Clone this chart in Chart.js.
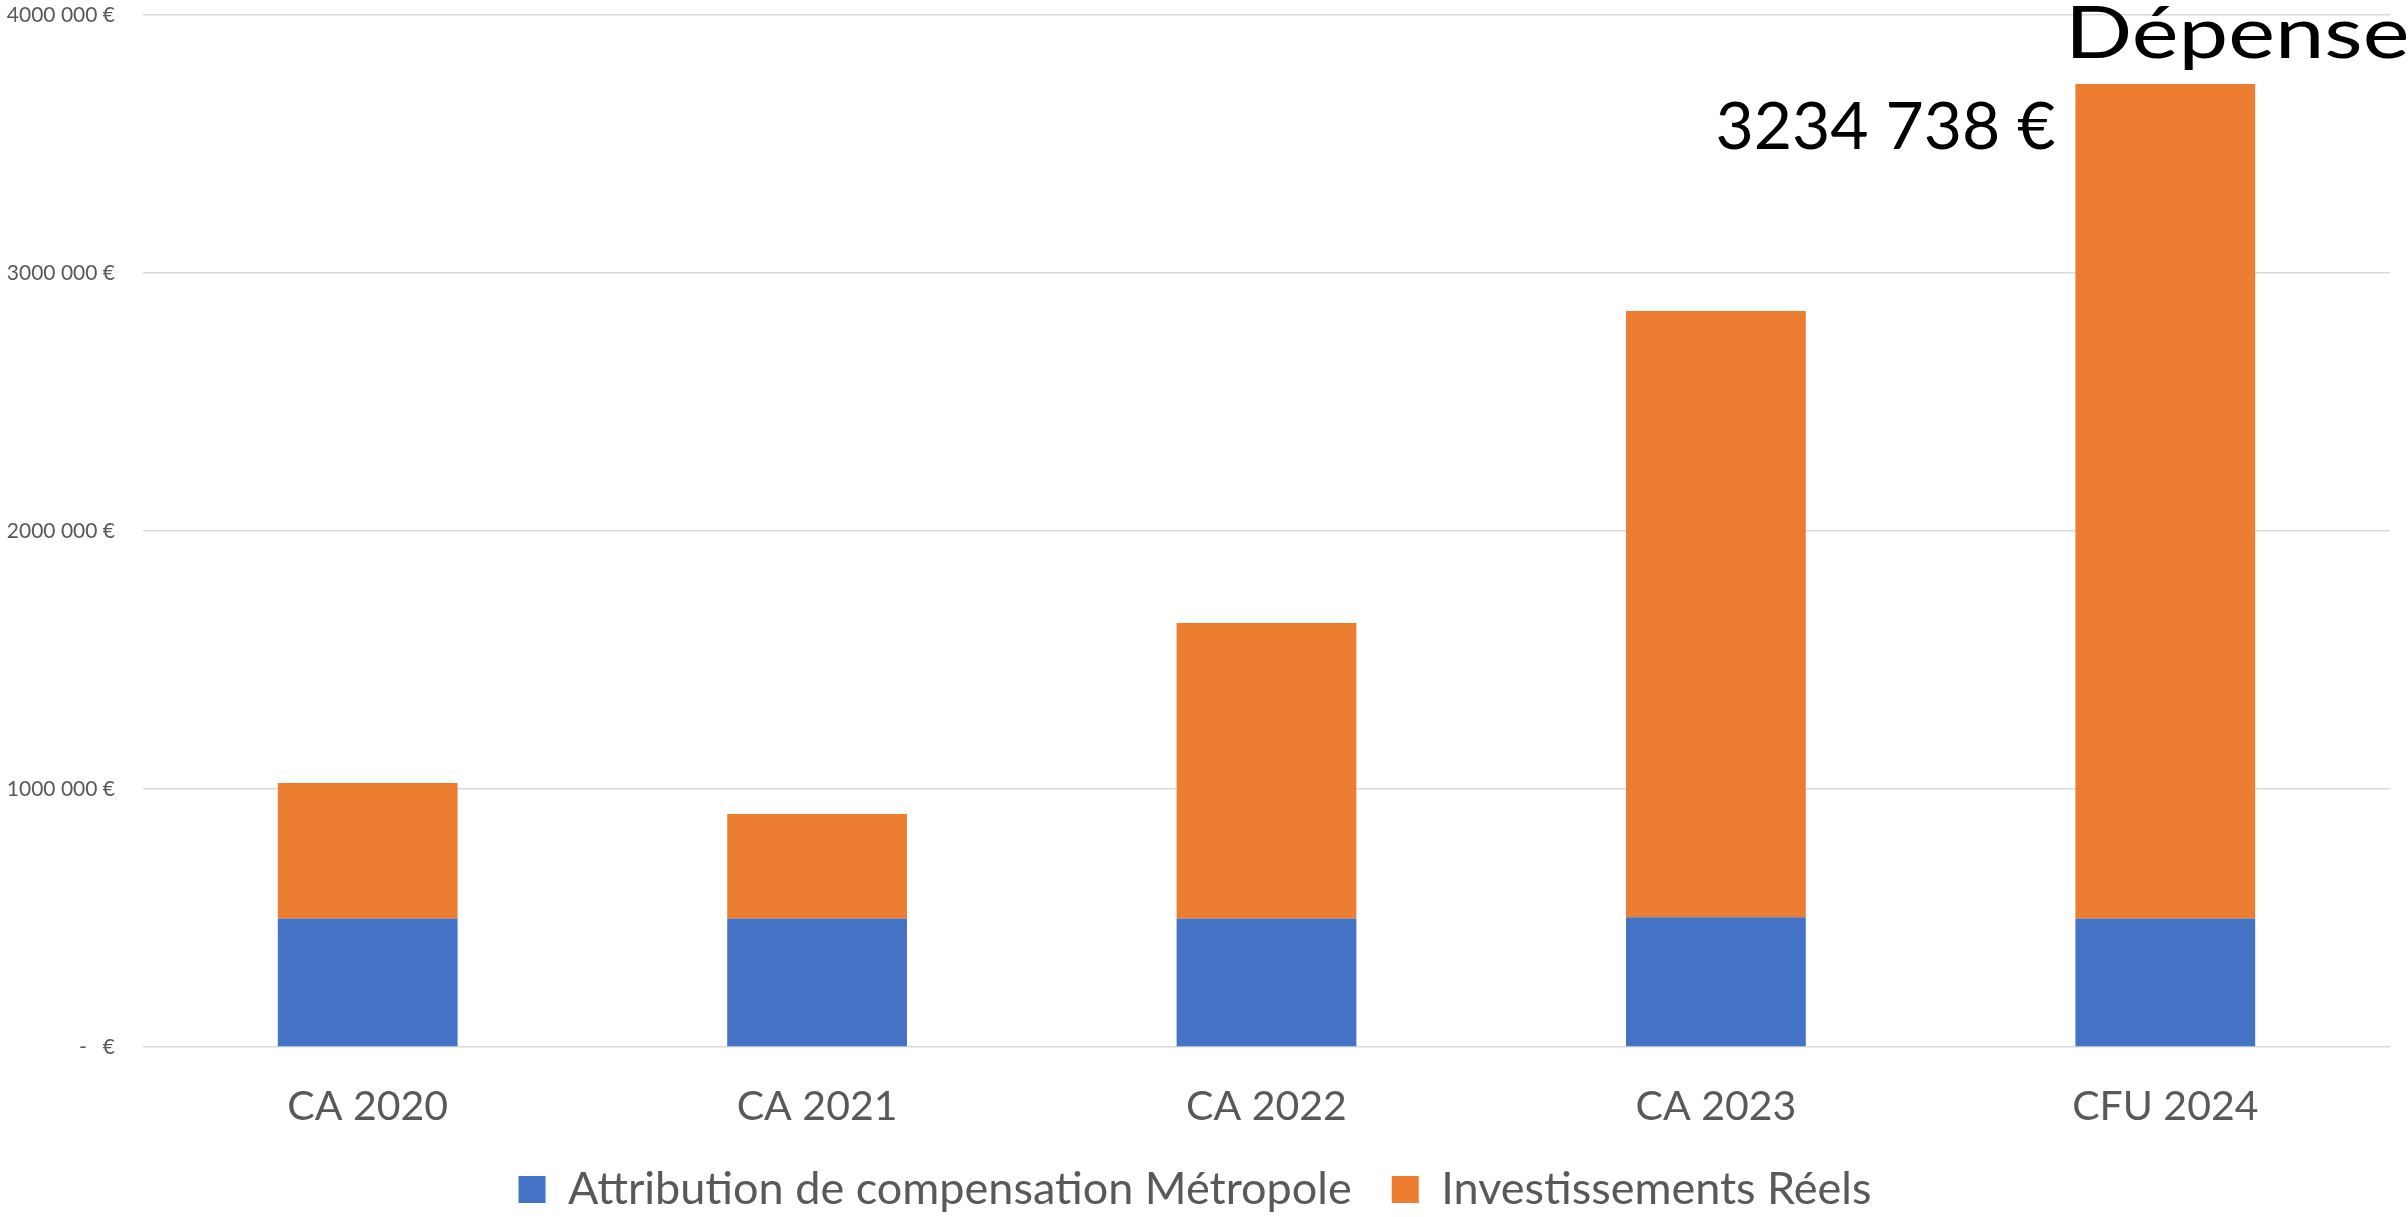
<!DOCTYPE html>
<html>
<head>
<meta charset="utf-8">
<script src="https://cdn.jsdelivr.net/npm/chart.js@4.4.1/dist/chart.umd.min.js"></script>
<style>
  html, body { margin: 0; padding: 0; background: #fff; }
  #cadre { width: 2408px; height: 1217px; position: relative; overflow: hidden; }
</style>
</head>
<body>
<div id="cadre"><canvas id="graphique"></canvas></div>
<script>
// --- Données ---
const categories = ['CA 2020', 'CA 2021', 'CA 2022', 'CA 2023', 'CFU 2024'];
const attributionMetropole = [498000, 498000, 498000, 503000, 498000];
const investissementsReels = [525000, 405000, 1145000, 2350000, 3234738];
const nomsSeries = ['Attribution de compensation Métropole', 'Investissements Réels'];
const couleursSeries = ['#4472C4', '#ED7D31'];
const titre = 'Dépenses';

// Format "4000 000 €" (seul le dernier groupe est séparé)
function formatEuro(v) {
    if (v === 0) return '-   €';
    const milliers = Math.floor(v / 1000);
    const reste = String(Math.round(v % 1000)).padStart(3, '0');
    return `${milliers} ${reste} €`;
}

// Titre coupé en haut à droite + étiquette de la dernière barre
const etiquettesPlugin = {
    id: 'etiquettes',
    afterDraw(chart) {
        const ctx = chart.ctx;
        ctx.save();
        ctx.fillStyle = '#000';
        ctx.font = '72px Lato';
        ctx.textAlign = 'left';
        ctx.textBaseline = 'alphabetic';
        ctx.translate(2065, 58);
        ctx.scale(1.23, 1);
        ctx.fillText(titre, 0, 0);
        ctx.restore();

        ctx.save();
        const idx = categories.length - 1;
        const barre = chart.getDatasetMeta(1).data[idx];
        ctx.fillStyle = '#000';
        ctx.font = '66px Lato';
        ctx.textAlign = 'right';
        ctx.textBaseline = 'middle';
        ctx.fillText(formatEuro(investissementsReels[idx]), barre.x - barre.width / 2 - 20, barre.y + 44);
        ctx.restore();
    }
};

const ctx = document.getElementById('graphique').getContext('2d');
new Chart(ctx, {
    type: 'bar',
    data: {
        labels: categories,
        datasets: [
            { label: nomsSeries[0], data: attributionMetropole, backgroundColor: couleursSeries[0] },
            { label: nomsSeries[1], data: investissementsReels, backgroundColor: couleursSeries[1] }
        ]
    },
    options: {
        responsive: true,
        maintainAspectRatio: false,
        animation: false,
        layout: { padding: { top: 0, right: 18, left: 0, bottom: -5 } },
        datasets: { bar: { barPercentage: 0.8, categoryPercentage: 0.5 } },
        plugins: {
            tooltip: { enabled: false },
            legend: {
                position: 'bottom',
                labels: {
                    color: '#595959',
                    font: { family: 'Lato', size: 45 },
                    boxWidth: 27,
                    boxHeight: 27,
                    padding: 40
                }
            }
        },
        scales: {
            x: {
                stacked: true,
                afterFit(scale) { scale.height = 80; },
                grid: { display: false, drawTicks: false },
                border: { display: false },
                ticks: { color: '#595959', font: { family: 'Lato', size: 41 }, padding: 35 }
            },
            y: {
                stacked: true,
                min: 0,
                max: 4000000,
                afterFit(scale) {
                    scale.width = 143;
                    scale.paddingTop = 15;
                    scale.paddingBottom = 0;
                },
                grid: { color: '#D9D9D9', lineWidth: 1.5, drawTicks: false },
                border: { display: false },
                ticks: {
                    stepSize: 1000000,
                    padding: 28,
                    color: '#595959',
                    font: { family: 'Lato', size: 21 },
                    callback: v => formatEuro(v)
                }
            }
        }
    },
    plugins: [etiquettesPlugin]
});
</script>
</body>
</html>
